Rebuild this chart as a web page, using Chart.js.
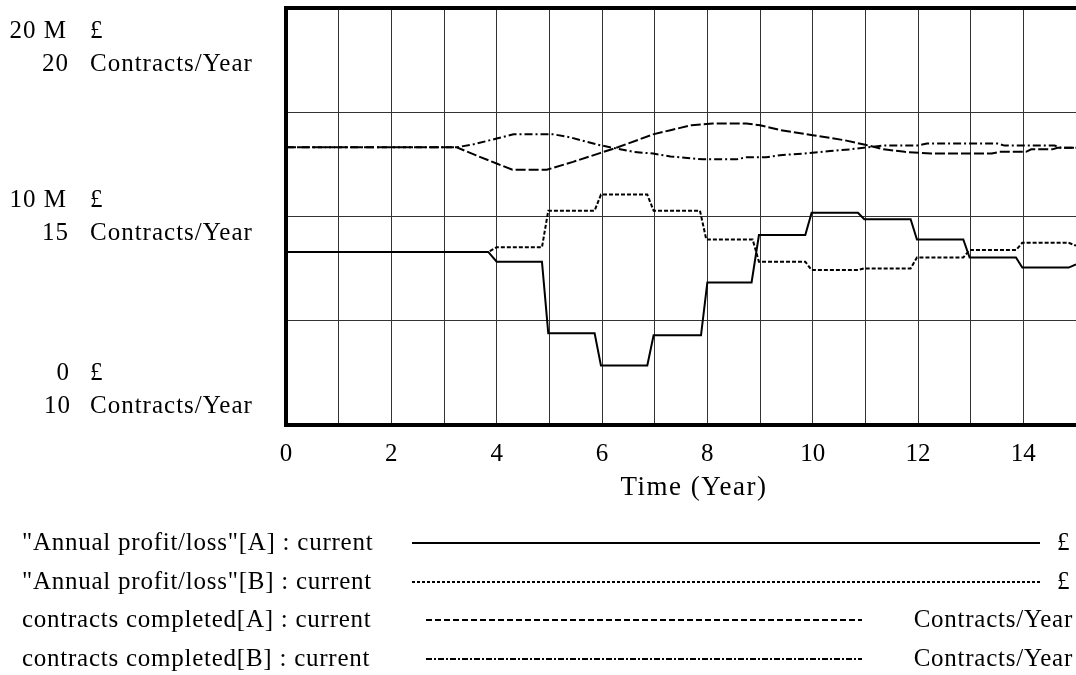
<!DOCTYPE html>
<html>
<head>
<meta charset="utf-8">
<script src="https://cdn.jsdelivr.net/npm/chart.js@4.4.1/dist/chart.umd.min.js"></script>
<style>
  html, body { margin: 0; padding: 0; background: #fff; }
</style>
</head>
<body>
<canvas id="simChart" width="1076" height="675"></canvas>
<script>
// Time axis (Year)
const timeTicks = [0, 2, 4, 6, 8, 10, 12, 14];
const timeTitle = 'Time (Year)';

// "Annual profit/loss"[A] : current  (£ millions)
const profitATime = [0, 3.84, 4.0, 4.86, 4.98, 5.86, 5.98, 6.86, 6.98, 7.88, 8.0, 8.84, 8.98, 9.86, 9.98, 10.86, 10.98, 11.86, 11.98, 12.86, 12.98, 13.86, 13.98, 14.86, 15];
const profitA = [8.3, 8.3, 7.83, 7.83, 4.4, 4.4, 2.85, 2.85, 4.3, 4.3, 6.84, 6.84, 9.11, 9.11, 10.18, 10.18, 9.87, 9.87, 8.9, 8.9, 8.03, 8.03, 7.55, 7.55, 7.7];

// "Annual profit/loss"[B] : current  (£ millions)
const profitBTime = [0, 3.84, 4.0, 4.86, 4.98, 5.86, 5.98, 6.86, 6.98, 7.86, 7.98, 8.86, 8.98, 9.86, 9.98, 10.86, 10.98, 11.86, 11.98, 12.86, 12.98, 13.86, 13.98, 14.86, 15];
const profitB = [8.3, 8.3, 8.52, 8.52, 10.28, 10.28, 11.05, 11.05, 10.28, 10.28, 8.9, 8.9, 7.83, 7.83, 7.43, 7.43, 7.51, 7.51, 8.03, 8.03, 8.39, 8.39, 8.74, 8.74, 8.6];

// contracts completed[A] : current  (Contracts/Year)
const contractsATime = [0, 3.24, 3.6, 4.0, 4.3, 4.95, 5.45, 5.96, 6.3, 6.97, 7.3, 7.7, 8.1, 8.74, 9.0, 9.4, 10.0, 10.6, 11.0, 11.35, 11.75, 12.25, 13.4, 13.55, 14.05, 14.15, 14.55, 14.65, 15];
const contractsA = [16.66, 16.66, 16.47, 16.27, 16.12, 16.12, 16.31, 16.52, 16.66, 16.97, 17.07, 17.19, 17.23, 17.23, 17.19, 17.07, 16.95, 16.83, 16.72, 16.61, 16.55, 16.51, 16.51, 16.55, 16.55, 16.61, 16.61, 16.65, 16.65];

// contracts completed[B] : current  (Contracts/Year)
const contractsBTime = [0, 3.24, 3.56, 4.0, 4.32, 5.08, 5.39, 5.71, 5.96, 6.28, 6.6, 6.97, 7.3, 7.92, 8.55, 8.74, 9.12, 9.38, 9.82, 10.33, 10.71, 10.97, 11.35, 11.98, 12.17, 13.51, 13.64, 14.59, 14.72, 15];
const contractsB = [16.66, 16.66, 16.73, 16.87, 16.97, 16.97, 16.90, 16.79, 16.71, 16.63, 16.55, 16.51, 16.44, 16.37, 16.37, 16.42, 16.42, 16.47, 16.51, 16.57, 16.61, 16.65, 16.70, 16.70, 16.75, 16.75, 16.70, 16.70, 16.65, 16.65];

// Left axis labels
const profitLabelValues = [20, 10, 0];
const contractLabelValues = [20, 15, 10];

// Legend rows
const legendNames = [
    '"Annual profit/loss"[A] : current',
    '"Annual profit/loss"[B] : current',
    'contracts completed[A] : current',
    'contracts completed[B] : current'
];
const legendUnits = ['£', '£', 'Contracts/Year', 'Contracts/Year'];

const FONT = 'Liberation Serif, Times New Roman, serif';

function pts(ts, vs) {
    return ts.map((t, i) => ({ x: t, y: vs[i] }));
}

// thick frame, left axis labels, axis title and the legend below the chart
const vensimDecor = {
    id: 'vensimDecor',
    afterDatasetsDraw(chart) {
        const ctx = chart.ctx;
        const a = chart.chartArea;
        ctx.save();
        ctx.strokeStyle = '#000';
        ctx.lineWidth = 4;
        ctx.beginPath();
        ctx.moveTo(a.right, a.top);
        ctx.lineTo(a.left, a.top);
        ctx.lineTo(a.left, a.bottom);
        ctx.lineTo(a.right, a.bottom);
        ctx.stroke();
        ctx.restore();
    },
    afterDraw(chart) {
        const ctx = chart.ctx;
        const a = chart.chartArea;
        const profit = chart.scales.profit;
        const contracts = chart.scales.contracts;
        ctx.save();
        ctx.fillStyle = '#000';
        ctx.font = '25px ' + FONT;
        ctx.letterSpacing = '1px';
        ctx.textBaseline = 'middle';

        profitLabelValues.forEach((v, i) => {
            const py = profit.getPixelForValue(v);
            const cy = contracts.getPixelForValue(contractLabelValues[i]);
            const mid = Math.min(Math.max((py + cy) / 2, a.top + 39), a.bottom - 36);
            ctx.textAlign = 'right';
            ctx.fillText(v === 0 ? '0' : v + ' M', v === 0 ? 70 : 67, mid - 16);
            ctx.fillText(String(contractLabelValues[i]), v === 0 ? 71 : 69, mid + 17);
            ctx.textAlign = 'left';
            ctx.fillText('£', 90, mid - 16);
            ctx.fillText('Contracts/Year', 90, mid + 17);
        });

        // axis title
        ctx.save();
        ctx.font = '27px ' + FONT;
        ctx.letterSpacing = '1.5px';
        ctx.textAlign = 'center';
        ctx.fillText(timeTitle, (a.left + a.right) / 2 + 13, a.bottom + 63);
        ctx.restore();

        const rowY = [543, 582, 620, 659];
        ctx.letterSpacing = '0.75px';
        chart.data.datasets.forEach((ds, i) => {
            const y = rowY[i];
            const profitRow = legendUnits[i] === '£';
            ctx.textAlign = 'left';
            ctx.fillText(legendNames[i], 22, y);
            ctx.save();
            ctx.strokeStyle = '#000';
            ctx.lineWidth = 2;
            ctx.setLineDash(ds.legendDash);
            ctx.beginPath();
            ctx.moveTo(profitRow ? 412 : 426, y);
            ctx.lineTo(profitRow ? 1040 : 862, y);
            ctx.stroke();
            ctx.restore();
            if (profitRow) {
                ctx.textAlign = 'left';
                ctx.fillText(legendUnits[i], 1057, y);
            } else {
                ctx.textAlign = 'right';
                ctx.fillText(legendUnits[i], 1073, y);
            }
        });
        ctx.restore();
    }
};

new Chart(document.getElementById('simChart').getContext('2d'), {
    type: 'line',
    data: {
        datasets: [{
            label: legendNames[0],
            data: pts(profitATime, profitA),
            yAxisID: 'profit',
            borderColor: '#000',
            borderWidth: 2,
            legendDash: []
        }, {
            label: legendNames[1],
            data: pts(profitBTime, profitB),
            yAxisID: 'profit',
            borderColor: '#000',
            borderWidth: 2,
            borderDash: [4, 2],
            legendDash: [3, 2]
        }, {
            label: legendNames[2],
            data: pts(contractsATime, contractsA),
            yAxisID: 'contracts',
            borderColor: '#000',
            borderWidth: 2,
            borderDash: [10, 3],
            legendDash: [6, 3]
        }, {
            label: legendNames[3],
            data: pts(contractsBTime, contractsB),
            yAxisID: 'contracts',
            borderColor: '#000',
            borderWidth: 2,
            borderDash: [8, 3, 2, 3],
            legendDash: [6, 2, 2, 2]
        }]
    },
    options: {
        responsive: false,
        animation: false,
        elements: { point: { radius: 0 }, line: { tension: 0 } },
        layout: { padding: { left: 286, top: 8, right: 0, bottom: 170 } },
        plugins: {
            legend: { display: false },
            tooltip: { enabled: false }
        },
        scales: {
            x: {
                type: 'linear',
                min: 0,
                max: 15,
                ticks: {
                    stepSize: 1,
                    autoSkip: false,
                    maxRotation: 0,
                    color: '#000',
                    padding: 14,
                    font: { family: FONT, size: 25 },
                    callback: v => timeTicks.includes(v) ? String(v) : ''
                },
                grid: { color: '#333', lineWidth: 1, drawTicks: false },
                border: { display: false },
                afterFit: s => { s.height = 80; s.paddingLeft = 0; s.paddingRight = 0; }
            },
            profit: {
                position: 'left',
                min: 0,
                max: 20,
                ticks: { stepSize: 5, display: false },
                grid: { color: '#333', lineWidth: 1, drawTicks: false },
                border: { display: false },
                afterFit: s => { s.width = 0; s.paddingTop = 0; s.paddingBottom = 0; }
            },
            contracts: {
                position: 'left',
                min: 10,
                max: 20,
                display: false
            }
        }
    },
    plugins: [vensimDecor]
});
</script>
</body>
</html>
